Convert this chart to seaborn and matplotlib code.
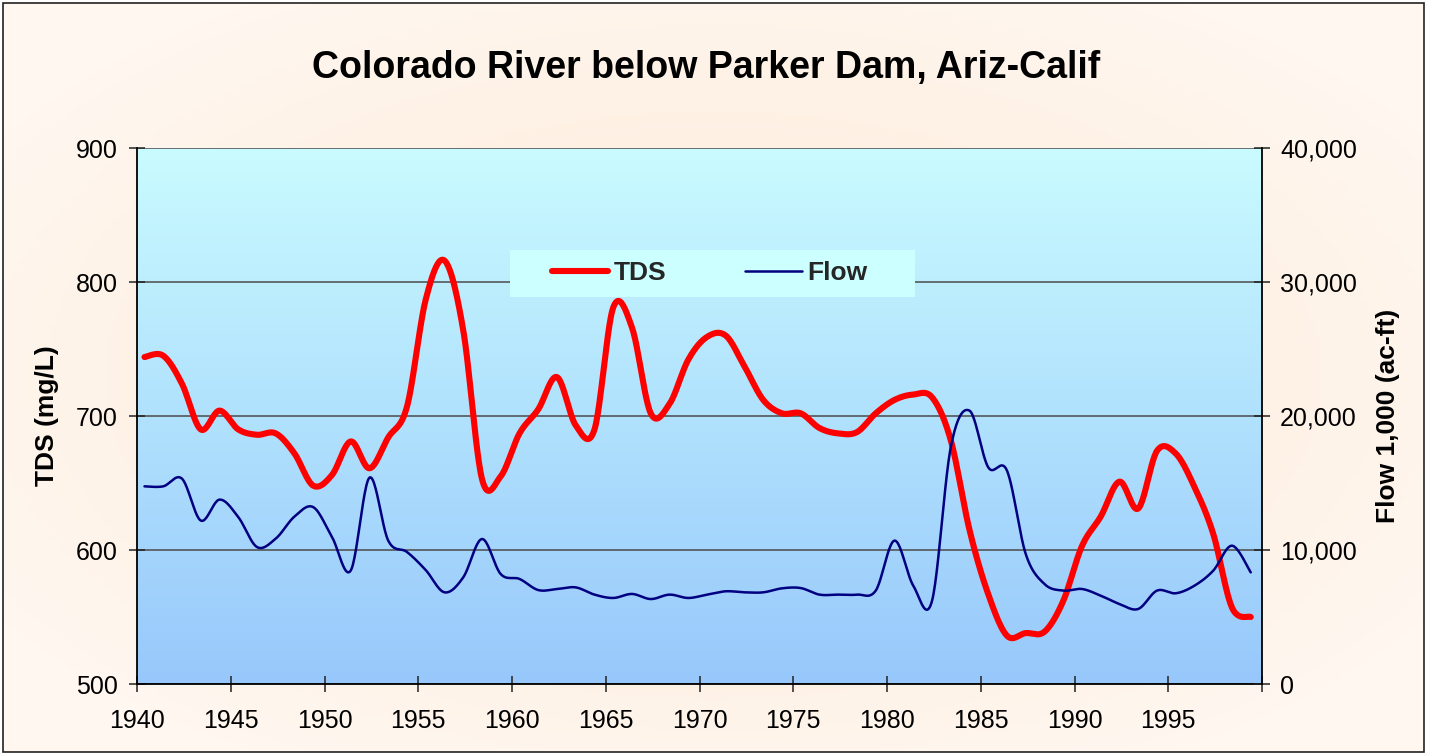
import numpy as np
import pandas as pd
import matplotlib
matplotlib.use("Agg")
import matplotlib.pyplot as plt
import seaborn as sns
from matplotlib.colors import LinearSegmentedColormap
from matplotlib.ticker import FuncFormatter
from matplotlib.lines import Line2D
from matplotlib.patches import Rectangle

# ---------------- data ----------------
years = list(range(1940, 2000))
tds = [744, 745, 724, 690, 704, 690, 686, 687, 672, 648,
       656, 681, 661, 684, 707, 787, 816, 764, 653, 655,
       687, 705, 729, 693, 690, 781, 766, 702, 709, 742,
       759, 760, 737, 712, 702, 702, 691, 687, 688, 702,
       712, 716, 714, 682, 615, 567, 536, 538, 539, 562,
       603, 625, 651, 631, 674, 672, 647, 612, 557, 550]
flow = [14750, 14750, 15320, 12200, 13760, 12460, 10220, 10850, 12500, 13200,
        10970, 8470, 15400, 10700, 9850, 8500, 6840, 7960, 10820, 8200,
        7840, 7010, 7090, 7210, 6670, 6420, 6720, 6340, 6670, 6420,
        6670, 6920, 6840, 6840, 7140, 7160, 6670, 6670, 6670, 6970,
        10700, 7340, 6200, 17660, 20400, 16170, 15920, 9700, 7460, 6970,
        7090, 6590, 5970, 5600, 6970, 6770, 7340, 8460, 10320, 8330]
xticks = list(range(1940, 2001, 5))
xticklabels = [str(v) for v in range(1940, 2000, 5)] + [""]
tds_ticks = [500, 600, 700, 800, 900]
flow_ticks = [0, 10000, 20000, 30000, 40000]
series_names = ["TDS", "Flow"]
title = "Colorado River below Parker Dam, Ariz-Calif"


def smooth_curve(x, y, n=24):
    """Catmull-Rom rendering of a line through the data points (like Excel 'smoothed line')."""
    pts = np.column_stack([x, y]).astype(float)
    P = np.vstack([pts[0], pts, pts[-1]])
    t = np.linspace(0, 1, n, endpoint=False)[:, None]
    out = []
    for i in range(1, len(P) - 2):
        p0, p1, p2, p3 = P[i - 1], P[i], P[i + 1], P[i + 2]
        seg = 0.5 * (2 * p1 + (-p0 + p2) * t + (2 * p0 - 5 * p1 + 4 * p2 - p3) * t ** 2
                     + (-p0 + 3 * p1 - 3 * p2 + p3) * t ** 3)
        out.append(seg)
    out.append(pts[-1][None, :])
    c = np.vstack(out)
    return c[:, 0], c[:, 1]


sns.set_theme(style="white")
plt.rcParams["font.family"] = ["Liberation Sans", "DejaVu Sans"]

W, H = 1431, 755
fig = plt.figure(figsize=(W / 100, H / 100), dpi=100)
fig.patch.set_facecolor("white")

# chart-area background (peach, soft radial gradient) and border
bg = fig.add_axes([3 / W, 3 / H, 1421 / W, 749 / H], zorder=-10)
yy, xx = np.mgrid[-1:1:200j, -1:1:300j]
r = np.clip(np.sqrt(xx ** 2 + yy ** 2) / 1.2, 0, 1)
peach = LinearSegmentedColormap.from_list("peach", ["#FDE9D5", "#FFF7F0"])
bg.imshow(r, cmap=peach, aspect="auto", extent=(0, 1, 0, 1))
bg.set_xlim(0, 1); bg.set_ylim(0, 1)
bg.axis("off")
fig.add_artist(Rectangle((3 / W, 3 / H), 1421 / W, 749 / H, transform=fig.transFigure,
                         fill=False, edgecolor="#222222", lw=1.2))

# plot area position
L, R, T, B = 137, 1262, 148, 684
pos = [L / W, 1 - B / H, (R - L) / W, (B - T) / H]

pbg = fig.add_axes(pos, zorder=-5)
grad = np.linspace(0, 1, 256)[:, None]
blue = LinearSegmentedColormap.from_list("blue", ["#C9FBFF", "#98C8FB"])
pbg.imshow(grad, cmap=blue, aspect="auto", extent=(0, 1, 0, 1))
pbg.set_xlim(0, 1); pbg.set_ylim(0, 1)
pbg.axis("off")

ax = fig.add_axes(pos)
ax.patch.set_visible(False)
ax2 = ax.twinx()
ax2.patch.set_visible(False)

xpos = np.array(years) + 0.4
sx, sy = smooth_curve(xpos, tds)
fx, fy = smooth_curve(xpos, flow)
sns.lineplot(x=sx, y=sy, ax=ax, sort=False, estimator=None, color="#FF0000", linewidth=4.4)
sns.lineplot(x=fx, y=fy, ax=ax2, sort=False, estimator=None, color="#000080", linewidth=1.8)

ax.set_xlim(1940, 2000)
ax.set_ylim(500, 900)
ax2.set_ylim(0, 40000)
ax.set_xticks(xticks)
ax.set_xticklabels(xticklabels)
ax.set_yticks(tds_ticks)
ax2.set_yticks(flow_ticks)
ax2.yaxis.set_major_formatter(FuncFormatter(lambda v, p: f"{int(v):,}"))

ax.yaxis.grid(True, color="#4A4A4A", linewidth=1.1)
ax.xaxis.grid(False)
ax2.grid(False)

for a in (ax, ax2):
    for s in a.spines.values():
        s.set_visible(False)
ax.spines["left"].set_visible(True)
ax.spines["bottom"].set_visible(True)
ax2.spines["right"].set_visible(True)
for s in (ax.spines["left"], ax.spines["bottom"], ax2.spines["right"]):
    s.set_color("black")
    s.set_linewidth(1.3)

ax.tick_params(axis="x", direction="inout", length=12, width=1.1, color="#222222",
               labelsize=18, pad=12, bottom=True)
ax.tick_params(axis="y", direction="inout", length=12, width=1.1, color="#222222",
               labelsize=18, pad=8, left=True)
ax2.tick_params(axis="y", direction="inout", length=12, width=1.1, color="#222222",
                labelsize=18, pad=7, right=True)
for lab in ax.get_xticklabels() + ax.get_yticklabels() + ax2.get_yticklabels():
    lab.set_color("black")

ax.set_xlabel("")
ax.set_ylabel("TDS (mg/L)", fontsize=19, fontweight="bold", color="black")
ax2.set_ylabel("Flow 1,000 (ac-ft)", fontsize=19, fontweight="bold", color="black")
ax.yaxis.set_label_coords((59 - L) / (R - L), 0.5)
ax2.yaxis.set_label_coords((1376 - L) / (R - L), 0.5)

# legend box
lx0, lx1, ly0, ly1 = 510, 915, 250, 297
ax2.add_patch(Rectangle(((lx0 - L) / (R - L), (B - ly1) / (B - T)),
                        (lx1 - lx0) / (R - L), (ly1 - ly0) / (B - T),
                        transform=ax2.transAxes, facecolor="#CCFFFF", edgecolor="none", zorder=4))
handles = [Line2D([], [], color="#FF0000", lw=4.4), Line2D([], [], color="#000080", lw=1.8)]
leg = ax2.legend(handles, series_names, ncol=2, loc="center",
                 bbox_to_anchor=(((lx0 + lx1) / 2 - 3 - L) / (R - L), (B - (ly0 + ly1) / 2) / (B - T)),
                 frameon=False, prop={"weight": "bold", "size": 19},
                 handlelength=2.15, handletextpad=0.2, columnspacing=3.0, borderpad=0.2)
leg.set_zorder(6)

fig.text(706 / W, 1 - 78 / H, title, ha="center", va="baseline", fontsize=27, fontweight="bold",
         color="black")

fig.savefig("out.png", dpi=100, facecolor=fig.get_facecolor())
